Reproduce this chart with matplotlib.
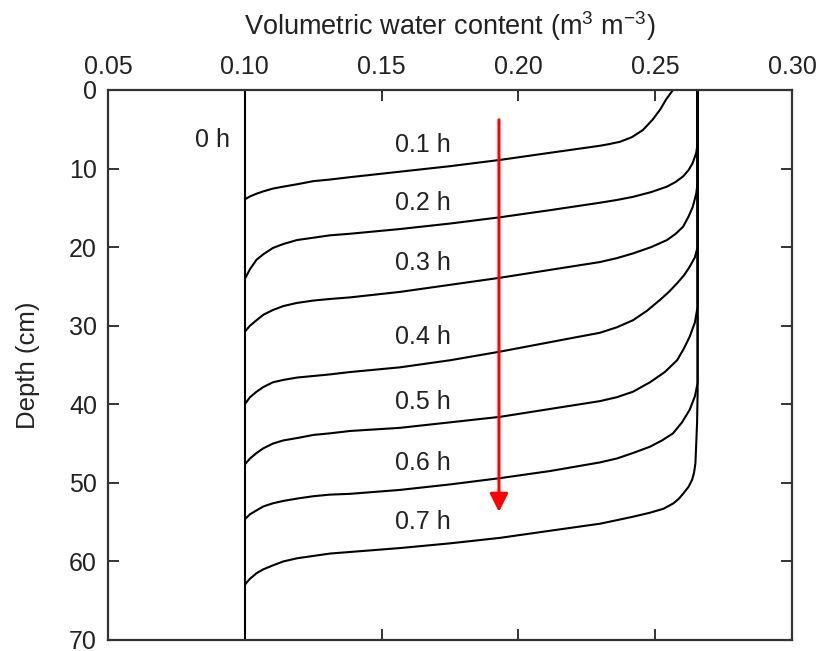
import numpy as np
import matplotlib
matplotlib.use("Agg")
from matplotlib import pyplot as plt

plt.rcParams['font.family'] = ['Liberation Sans', 'DejaVu Sans']
plt.rcParams['mathtext.fontset'] = 'custom'
plt.rcParams['mathtext.rm'] = 'Liberation Sans'
plt.rcParams['mathtext.it'] = 'Liberation Sans'

# 土壌水分プロファイル (読み取り値)
theta_s = 0.2655
theta_i = 0.100

theta_01 = [0.2565, 0.2540, 0.2518, 0.2490, 0.2455, 0.2415, 0.2371, 0.2330, 0.2298, 0.2115, 0.1933, 0.1750,
            0.1567, 0.1384, 0.1311, 0.1251, 0.1191, 0.1141, 0.1103, 0.1068, 0.1043, 0.1019, 0.1001]
depth_01 = [0.0, 1.2, 2.5, 3.8, 5.1, 6.0, 6.6, 6.9, 7.1, 8.0, 8.9, 9.7,
            10.4, 11.1, 11.4, 11.6, 12.0, 12.3, 12.55, 12.9, 13.2, 13.55, 13.9]

theta_02 = [theta_s, theta_s, 0.2650, 0.2637, 0.2622, 0.2602, 0.2575, 0.2543, 0.2485, 0.2419, 0.2360, 0.2298,
            0.2115, 0.1933, 0.1750, 0.1567, 0.1384, 0.1311, 0.1251, 0.1191, 0.1141, 0.1103, 0.1068, 0.1043,
            0.1019, 0.1004]
depth_02 = [0.0, 6.8, 8.0, 9.3, 10.2, 11.0, 11.7, 12.3, 13.0, 13.6, 14.0, 14.35,
            15.3, 16.2, 17.0, 17.7, 18.3, 18.5, 18.8, 19.1, 19.6, 20.1, 20.9, 21.6,
            22.8, 23.8]

theta_03 = [theta_s, theta_s, 0.2650, 0.2637, 0.2622, 0.2602, 0.2575, 0.2543, 0.2485, 0.2419, 0.2360, 0.2298,
            0.2115, 0.1933, 0.1750, 0.1567, 0.1384, 0.1311, 0.1251, 0.1191, 0.1141, 0.1103, 0.1068, 0.1043,
            0.1019, 0.1004]
depth_03 = [0.0, 11.8, 13.2, 14.9, 16.1, 17.4, 18.3, 19.1, 20.0, 20.8, 21.4, 21.9,
            22.9, 23.9, 24.8, 25.7, 26.4, 26.6, 26.8, 27.1, 27.5, 28.0, 28.6, 29.3,
            30.0, 30.6]

theta_04 = [theta_s, theta_s, 0.2645, 0.2626, 0.2605, 0.2580, 0.2550, 0.2518, 0.2470, 0.2419, 0.2360, 0.2298,
            0.2115, 0.1933, 0.1750, 0.1567, 0.1384, 0.1311, 0.1251, 0.1191, 0.1141, 0.1103, 0.1068, 0.1043,
            0.1019, 0.1004]
depth_04 = [0.0, 20.0, 21.3, 22.5, 23.6, 24.6, 25.7, 26.7, 28.1, 29.3, 30.2, 30.9,
            32.1, 33.3, 34.4, 35.3, 35.9, 36.2, 36.4, 36.6, 36.9, 37.2, 37.8, 38.4,
            39.1, 39.8]

theta_05 = [theta_s, theta_s, 0.2645, 0.2626, 0.2605, 0.2580, 0.2535, 0.2481, 0.2450, 0.2419, 0.2360, 0.2298,
            0.2115, 0.1933, 0.1750, 0.1567, 0.1384, 0.1311, 0.1251, 0.1191, 0.1141, 0.1103, 0.1068, 0.1043,
            0.1019, 0.1004]
depth_05 = [0.0, 27.6, 29.6, 31.4, 32.9, 34.4, 35.9, 37.2, 37.8, 38.4, 39.1, 39.6,
            40.6, 41.6, 42.3, 43.0, 43.4, 43.7, 43.9, 44.3, 44.6, 45.0, 45.6, 46.2,
            46.9, 47.5]

theta_06 = [theta_s, theta_s, 0.2645, 0.2626, 0.2598, 0.2565, 0.2525, 0.2481, 0.2419, 0.2360, 0.2298,
            0.2115, 0.1933, 0.1750, 0.1567, 0.1384, 0.1311, 0.1251, 0.1191, 0.1141, 0.1103, 0.1068, 0.1043,
            0.1019, 0.1004]
depth_06 = [0.0, 37.3, 39.0, 40.7, 42.3, 43.7, 44.6, 45.4, 46.2, 46.9, 47.4,
            48.5, 49.4, 50.2, 50.9, 51.4, 51.5, 51.7, 52.0, 52.3, 52.6, 53.0, 53.5,
            54.0, 54.5]

theta_07 = [theta_s, theta_s, 0.2654, 0.2653, 0.2650, 0.2647, 0.2642, 0.2635, 0.2622, 0.2604, 0.2587, 0.2567,
            0.2530, 0.2481, 0.2420, 0.2360, 0.2298, 0.2115, 0.1933, 0.1750, 0.1567, 0.1384, 0.1311, 0.1251,
            0.1191, 0.1141, 0.1103, 0.1068, 0.1043, 0.1019, 0.1004]
depth_07 = [0.0, 38.5, 40.5, 42.4, 45.0, 47.5, 48.7, 49.6, 50.5, 51.3, 52.0, 52.6,
            53.3, 53.8, 54.3, 54.75, 55.2, 56.1, 57.0, 57.7, 58.3, 58.8, 59.0, 59.3,
            59.6, 60.0, 60.5, 61.0, 61.5, 62.2, 62.8]

profiles = [(theta_01, depth_01), (theta_02, depth_02), (theta_03, depth_03), (theta_04, depth_04),
            (theta_05, depth_05), (theta_06, depth_06), (theta_07, depth_07)]

labels = ["0.1 h", "0.2 h", "0.3 h", "0.4 h", "0.5 h", "0.6 h", "0.7 h"]
label_depth = [7.0, 14.4, 22.0, 31.4, 39.7, 47.5, 55.0]
label_theta = 0.1652

x_ticks = [0.05, 0.10, 0.15, 0.20, 0.25, 0.30]
y_ticks = [0, 10, 20, 30, 40, 50, 60, 70]

arrow_theta = 0.1929
arrow_from = 3.8
arrow_to = 53.7

text_col = '#222222'

fig = plt.figure(figsize=(8.17, 6.51), dpi=100)
ax = fig.add_axes([0.1322, 0.0169, 0.9694 - 0.1322, 0.8618 - 0.0169])

ax.plot([theta_i, theta_i], [0, 70], color='black', lw=1.5)
for th, d in profiles:
    ax.plot(th, d, color='black', lw=1.5, solid_joinstyle='round')

ax.text(0.0882, 6.4, "0 h", ha='center', va='center', fontsize=18, color=text_col)
for lab, d in zip(labels, label_depth):
    ax.text(label_theta, d, lab, ha='center', va='center', fontsize=18, color=text_col)

ax.annotate("", xy=(arrow_theta, arrow_to), xytext=(arrow_theta, arrow_from),
            arrowprops=dict(arrowstyle='-|>,head_length=1.1,head_width=0.55', color='#ff0000', lw=2.2,
                            shrinkA=0, shrinkB=0))

ax.set_xlim(0.05, 0.30)
ax.set_ylim(70, 0)
ax.set_xticks(x_ticks)
ax.set_xticklabels(["%.2f" % v for v in x_ticks])
ax.set_yticks(y_ticks)
ax.xaxis.tick_top()
ax.xaxis.set_label_position('top')
ax.tick_params(axis='both', direction='in', length=8, width=1.4, colors='#333333',
               labelcolor=text_col, labelsize=18, top=True, bottom=True, left=True, right=True)
ax.tick_params(axis='x', pad=8, labeltop=True, labelbottom=False)
ax.tick_params(axis='y', pad=8, labelleft=True, labelright=False)
for s in ax.spines.values():
    s.set_linewidth(1.6)
    s.set_color('#333333')

ax.set_xlabel("Volumetric water content (m$^3$ m$^{-3}$)", fontsize=19.5, color=text_col, labelpad=14)
ax.set_ylabel("Depth (cm)", fontsize=18.5, color=text_col, labelpad=21)

fig.savefig("out.png", dpi=100)
